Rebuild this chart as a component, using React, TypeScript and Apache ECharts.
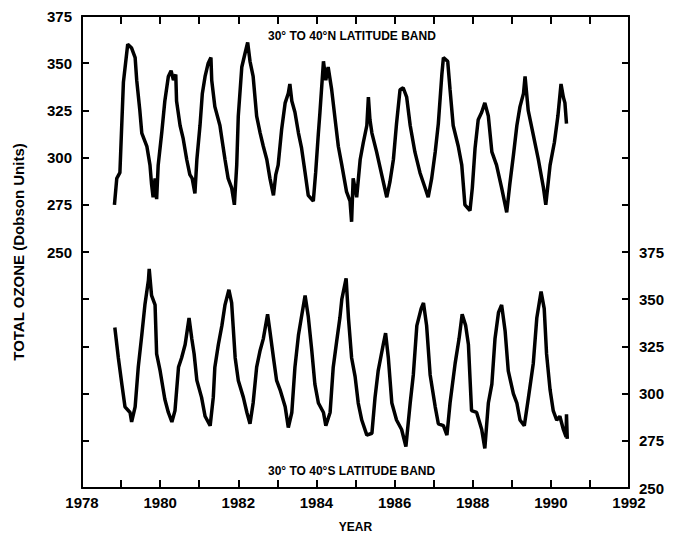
import React, { useEffect, useRef } from "react";
import * as echarts from "echarts";

// 30°-40°N band (left axis)
const northYears = [
  1978.83, 1978.89, 1978.97, 1979.03, 1979.06, 1979.17, 1979.27, 1979.36, 1979.4, 1979.48,
  1979.53, 1979.66, 1979.74, 1979.78, 1979.82, 1979.87, 1979.91, 1979.95, 1980.04, 1980.12,
  1980.21, 1980.28, 1980.34, 1980.4, 1980.42, 1980.51, 1980.59, 1980.68, 1980.76, 1980.82,
  1980.89, 1980.94, 1981.02, 1981.08, 1981.15, 1981.23, 1981.3, 1981.32, 1981.4, 1981.53,
  1981.58, 1981.66, 1981.74, 1981.83, 1981.9, 1981.96, 1982.0, 1982.09, 1982.17, 1982.24,
  1982.3, 1982.38, 1982.47, 1982.56, 1982.64, 1982.73, 1982.81, 1982.9, 1982.96, 1983.02,
  1983.11, 1983.2, 1983.28, 1983.32, 1983.37, 1983.45, 1983.54, 1983.62, 1983.71, 1983.79,
  1983.92, 1983.98, 1984.05, 1984.09, 1984.18, 1984.24, 1984.3, 1984.39, 1984.48, 1984.56,
  1984.65, 1984.77, 1984.86, 1984.9, 1984.94, 1985.03, 1985.12, 1985.2, 1985.29, 1985.33,
  1985.37, 1985.42, 1985.54, 1985.67, 1985.8, 1985.88, 1985.97, 1986.05, 1986.14, 1986.22,
  1986.31, 1986.4, 1986.52, 1986.65, 1986.78, 1986.86, 1986.95, 1987.04, 1987.12, 1987.21,
  1987.25, 1987.36, 1987.42, 1987.5, 1987.63, 1987.72, 1987.8, 1987.93, 1987.99, 1988.06,
  1988.14, 1988.23, 1988.31, 1988.4, 1988.49, 1988.61, 1988.74, 1988.87, 1988.95, 1989.04,
  1989.13, 1989.21, 1989.3, 1989.34, 1989.42, 1989.55, 1989.68, 1989.81, 1989.87, 1989.98,
  1990.09, 1990.18, 1990.26, 1990.32, 1990.36, 1990.4,
];
const northValues = [
  275, 289, 292, 324, 340, 360, 358, 353, 341, 325,
  313, 306, 296, 286, 279, 289, 278, 296, 313, 330,
  343, 346, 341, 344, 330, 317, 310, 299, 291, 289,
  281, 299, 317, 334, 343, 350, 353, 341, 327, 317,
  310, 299, 289, 284, 275, 296, 322, 348, 355, 361,
  351, 343, 322, 313, 306, 299, 289, 280, 291, 296,
  315, 329, 334, 339, 330, 324, 313, 305, 292, 280,
  277, 292, 313, 324, 351, 341, 348, 336, 320, 306,
  296, 282, 277, 266, 289, 279, 299, 308, 317, 332,
  320, 313, 303, 291, 279, 287, 299, 318, 336, 337,
  332, 317, 303, 292, 284, 279, 289, 303, 318, 344,
  353, 351, 336, 317, 306, 296, 275, 272, 284, 305,
  320, 324, 329, 322, 303, 296, 284, 271, 286, 301,
  317, 327, 334, 343, 325, 312, 299, 284, 275, 296,
  308, 322, 339, 332, 329, 318,
];

// 30°-40°S band (right axis)
const southYears = [
  1978.84, 1978.93, 1979.02, 1979.1, 1979.23, 1979.27, 1979.36, 1979.44, 1979.53, 1979.61,
  1979.7, 1979.72, 1979.78, 1979.87, 1979.91, 1980.0, 1980.12, 1980.21, 1980.3, 1980.38,
  1980.47, 1980.55, 1980.64, 1980.74, 1980.81, 1980.87, 1980.94, 1981.06, 1981.15, 1981.28,
  1981.36, 1981.4, 1981.49, 1981.58, 1981.66, 1981.76, 1981.83, 1981.92, 1982.0, 1982.13,
  1982.22, 1982.3, 1982.38, 1982.47, 1982.56, 1982.64, 1982.75, 1982.81, 1982.9, 1982.98,
  1983.07, 1983.2, 1983.28, 1983.37, 1983.45, 1983.54, 1983.62, 1983.71, 1983.79, 1983.88,
  1983.96, 1984.05, 1984.18, 1984.24, 1984.35, 1984.43, 1984.52, 1984.6, 1984.65, 1984.76,
  1984.82, 1984.9, 1984.99, 1985.07, 1985.16, 1985.29, 1985.42, 1985.5, 1985.58, 1985.71,
  1985.77, 1985.84, 1985.93, 1986.05, 1986.18, 1986.29, 1986.4, 1986.48, 1986.57, 1986.68,
  1986.74, 1986.82, 1986.91, 1987.04, 1987.12, 1987.25, 1987.34, 1987.42, 1987.55, 1987.65,
  1987.73, 1987.82, 1987.89, 1987.97, 1988.1, 1988.23, 1988.31, 1988.4, 1988.49, 1988.57,
  1988.66, 1988.74, 1988.83, 1988.91, 1989.04, 1989.13, 1989.21, 1989.32, 1989.42, 1989.55,
  1989.64, 1989.75, 1989.83, 1989.89, 1989.98, 1990.06, 1990.15, 1990.23, 1990.32, 1990.39,
  1990.4, 1990.42,
];
const southValues = [
  335, 319, 305, 293, 290, 285, 293, 314, 331, 347,
  360, 366, 352, 347, 321, 312, 297, 290, 285, 291,
  314, 319, 326, 340, 329, 321, 307, 298, 288, 283,
  298, 314, 326, 336, 347, 355, 348, 319, 307, 298,
  290, 284, 295, 314, 323, 329, 342, 333, 319, 307,
  302, 293, 282, 290, 314, 331, 341, 352, 341, 323,
  305, 295, 290, 283, 290, 314, 328, 340, 350, 361,
  340, 319, 309, 295, 286, 278, 279, 298, 312, 326,
  332, 319, 295, 286, 281, 272, 295, 310, 336, 345,
  348, 336, 310, 293, 284, 283, 278, 295, 316, 329,
  342, 336, 326, 291, 290, 281, 271, 295, 305, 329,
  343, 347, 333, 312, 300, 295, 286, 283, 297, 316,
  340, 354, 345, 321, 302, 291, 286, 288, 281, 277,
  289, 276,
];

const xMin = 1978;
const xMax = 1992;
const leftMin = 125;
const leftMax = 375;
const rightMin = 250;
const rightMax = 500;
const yearTicks = 1;
const duTicks = 25;

const FONT = "'Liberation Sans', Arial, sans-serif";

export default function App() {
  const ref = useRef<HTMLDivElement>(null);
  useEffect(() => {
    if (!ref.current) return;
    const chart = echarts.init(ref.current, undefined, { renderer: "svg" });
    const northData = northYears.map((y, i) => [y, northValues[i]]);
    const southData = southYears.map((y, i) => [y, southValues[i]]);
    const axisLine = { show: true, lineStyle: { color: "#000", width: 2 } };
    const axisTick = { show: true, inside: true, length: 8, lineStyle: { color: "#000", width: 2 } };
    chart.setOption({
      animation: false,
      backgroundColor: "#fff",
      grid: { left: 82, right: 45, top: 16, bottom: 40, containLabel: false },
      xAxis: [
        {
          type: "value",
          min: xMin,
          max: xMax,
          interval: yearTicks,
          position: "bottom",
          name: "YEAR",
          nameLocation: "middle",
          nameGap: 33,
          nameTextStyle: { color: "#000", fontFamily: FONT, fontSize: 12, fontWeight: "bold" },
          axisLine,
          axisTick,
          splitLine: { show: false },
          axisLabel: {
            color: "#000",
            fontFamily: FONT,
            fontSize: 15,
            fontWeight: "bold",
            margin: 7,
            formatter: (v: number) => (Math.round(v) % 2 === 0 ? String(Math.round(v)) : ""),
          },
        },
        {
          type: "value",
          min: xMin,
          max: xMax,
          interval: yearTicks,
          position: "top",
          axisLine,
          axisTick,
          splitLine: { show: false },
          axisLabel: { show: false },
        },
      ],
      yAxis: [
        {
          type: "value",
          min: leftMin,
          max: leftMax,
          interval: duTicks,
          position: "left",
          name: "TOTAL OZONE (Dobson Units)",
          nameLocation: "middle",
          nameGap: 56,
          nameRotate: 90,
          nameTextStyle: { color: "#000", fontFamily: FONT, fontSize: 15, fontWeight: "bold" },
          axisLine,
          axisTick: { ...axisTick, length: 7 },
          splitLine: { show: false },
          axisLabel: {
            color: "#000",
            fontFamily: FONT,
            fontSize: 15,
            fontWeight: "bold",
            margin: 10,
            formatter: (v: number) => (v >= 250 ? String(v) : ""),
          },
        },
        {
          type: "value",
          min: rightMin,
          max: rightMax,
          interval: duTicks,
          position: "right",
          axisLine,
          axisTick: { ...axisTick, length: 7 },
          splitLine: { show: false },
          axisLabel: {
            color: "#000",
            fontFamily: FONT,
            fontSize: 15,
            fontWeight: "bold",
            margin: 10,
            formatter: (v: number) => (v <= 375 ? String(v) : ""),
          },
        },
      ],
      graphic: [
        {
          type: "text",
          left: 268,
          top: 30,
          style: { text: "30° TO 40°N LATITUDE BAND", fill: "#000", font: `bold 12px ${FONT}` },
        },
        {
          type: "text",
          left: 268,
          top: 465,
          style: { text: "30° TO 40°S LATITUDE BAND", fill: "#000", font: `bold 12px ${FONT}` },
        },
      ],
      series: [
        {
          type: "line",
          name: "30-40N",
          xAxisIndex: 0,
          yAxisIndex: 0,
          data: northData,
          showSymbol: false,
          lineStyle: { color: "#000", width: 3.5 },
          silent: true,
        },
        {
          type: "line",
          name: "30-40S",
          xAxisIndex: 0,
          yAxisIndex: 1,
          data: southData,
          showSymbol: false,
          lineStyle: { color: "#000", width: 3.5 },
          silent: true,
        },
      ],
    });
    return () => chart.dispose();
  }, []);
  return <div ref={ref} style={{ width: 674, height: 538, position: "absolute", left: 0, top: 0 }} />;
}
